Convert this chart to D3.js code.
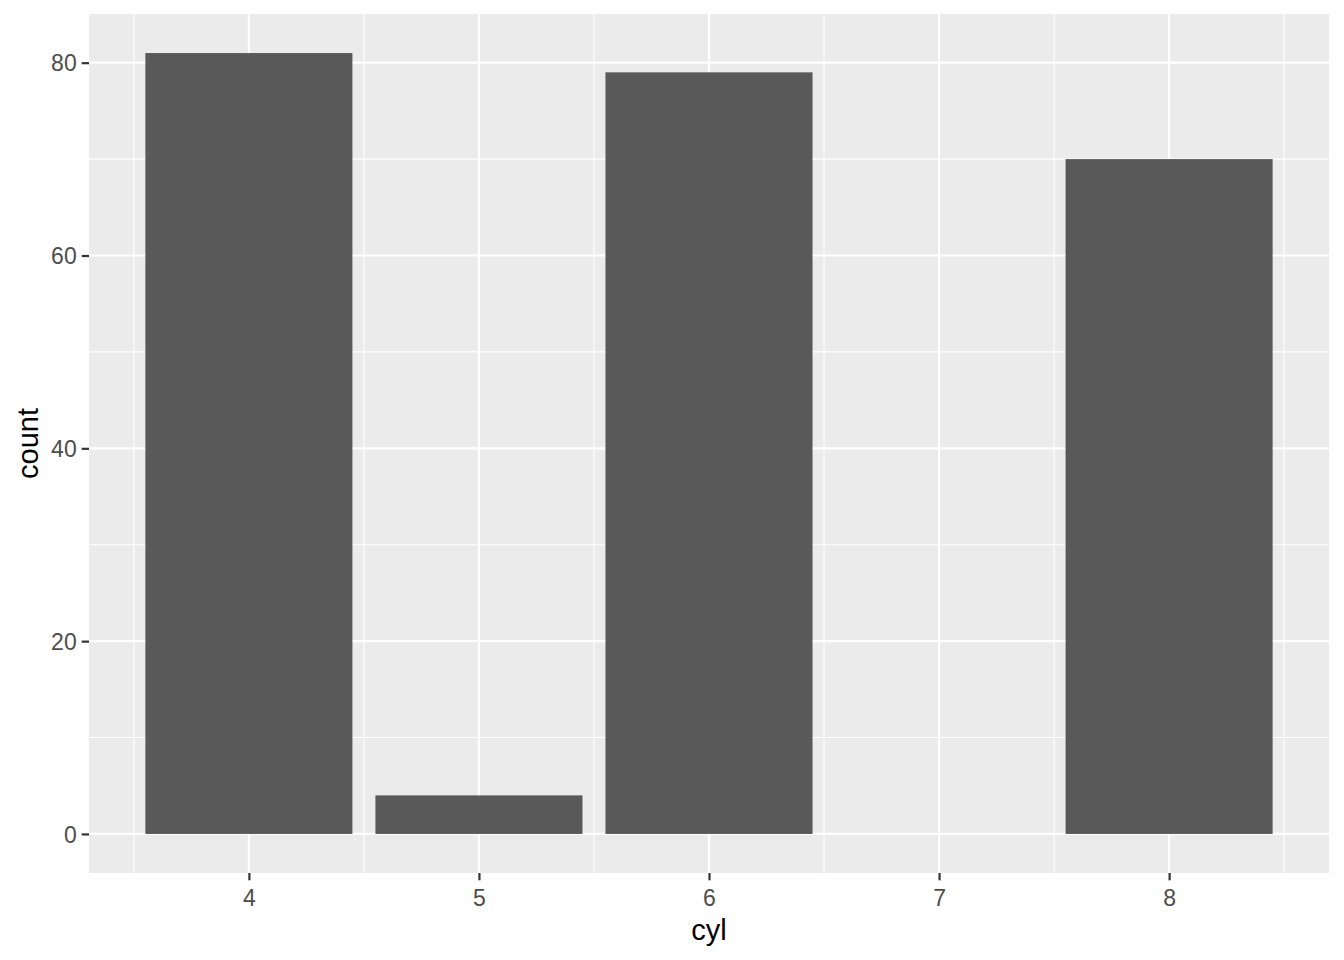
<!DOCTYPE html>
<html><head><meta charset="utf-8">
<script src="https://cdn.jsdelivr.net/npm/d3@7"></script>
<style>body{margin:0;background:#fff}</style>
</head><body><svg id="c" width="1344" height="960" font-family="'Liberation Sans', Arial, sans-serif"></svg>
<script>
const categories = [4, 5, 6, 8];
const counts = [81, 4, 79, 70];
const xTicks = [4, 5, 6, 7, 8];
const yTicks = [0, 20, 40, 60, 80];
const yMinor = [10, 30, 50, 70];
const xMinor = [3.5, 4.5, 5.5, 6.5, 7.5, 8.5];
const FONT = "'Liberation Sans', Arial, sans-serif";

const svg = d3.select("#c");
const L = 89, R = 1329, T = 14, B = 873;
const x = d3.scaleLinear().domain([3.305, 8.695]).range([L, R]);
const y = d3.scaleLinear().domain([-4.05, 85.05]).range([B, T]);

svg.append("rect").attr("x", L).attr("y", T).attr("width", R - L).attr("height", B - T).attr("fill", "#EBEBEB");
const g = svg.append("g");
g.selectAll(".ym").data(yMinor).join("line").attr("x1", L).attr("x2", R)
  .attr("y1", d => y(d)).attr("y2", d => y(d)).attr("stroke", "#fff").attr("stroke-width", 1.1);
g.selectAll(".xm").data(xMinor).join("line").attr("y1", T).attr("y2", B)
  .attr("x1", d => x(d)).attr("x2", d => x(d)).attr("stroke", "#fff").attr("stroke-width", 1.1);
g.selectAll(".yM").data(yTicks).join("line").attr("x1", L).attr("x2", R)
  .attr("y1", d => y(d)).attr("y2", d => y(d)).attr("stroke", "#fff").attr("stroke-width", 2.2);
g.selectAll(".xM").data(xTicks).join("line").attr("y1", T).attr("y2", B)
  .attr("x1", d => x(d)).attr("x2", d => x(d)).attr("stroke", "#fff").attr("stroke-width", 2.2);

svg.selectAll(".bar").data(categories).join("rect")
  .attr("x", (d) => x(d - 0.45)).attr("width", (d) => x(d + 0.45) - x(d - 0.45))
  .attr("y", (d, i) => y(counts[i])).attr("height", (d, i) => y(0) - y(counts[i]))
  .attr("fill", "#595959");

const xa = svg.append("g").attr("transform", `translate(0,${B})`)
  .call(d3.axisBottom(x).tickValues(xTicks).tickSize(7.3).tickPadding(9).tickFormat(d3.format("d")));
const ya = svg.append("g").attr("transform", `translate(${L},0)`)
  .call(d3.axisLeft(y).tickValues(yTicks).tickSize(7.3).tickPadding(5).tickFormat(d3.format("d")));
[xa, ya].forEach(a => {
  a.attr("font-family", FONT).attr("font-size", 23);
  a.select(".domain").remove();
  a.selectAll(".tick line").attr("stroke", "#333333").attr("stroke-width", 2.2);
  a.selectAll(".tick text").attr("fill", "#4D4D4D");
});
xa.selectAll(".tick text").attr("dy", "0.71em");
ya.selectAll(".tick text").attr("dy", "0.35em");

svg.append("text").attr("x", (L + R) / 2).attr("y", 940).attr("text-anchor", "middle")
  .attr("font-family", FONT).attr("font-size", 29).attr("fill", "#000").text("cyl");
svg.append("text").attr("transform", `translate(38,${(T + B) / 2}) rotate(-90)`).attr("text-anchor", "middle")
  .attr("font-family", FONT).attr("font-size", 29).attr("fill", "#000").text("count");
</script></body></html>
